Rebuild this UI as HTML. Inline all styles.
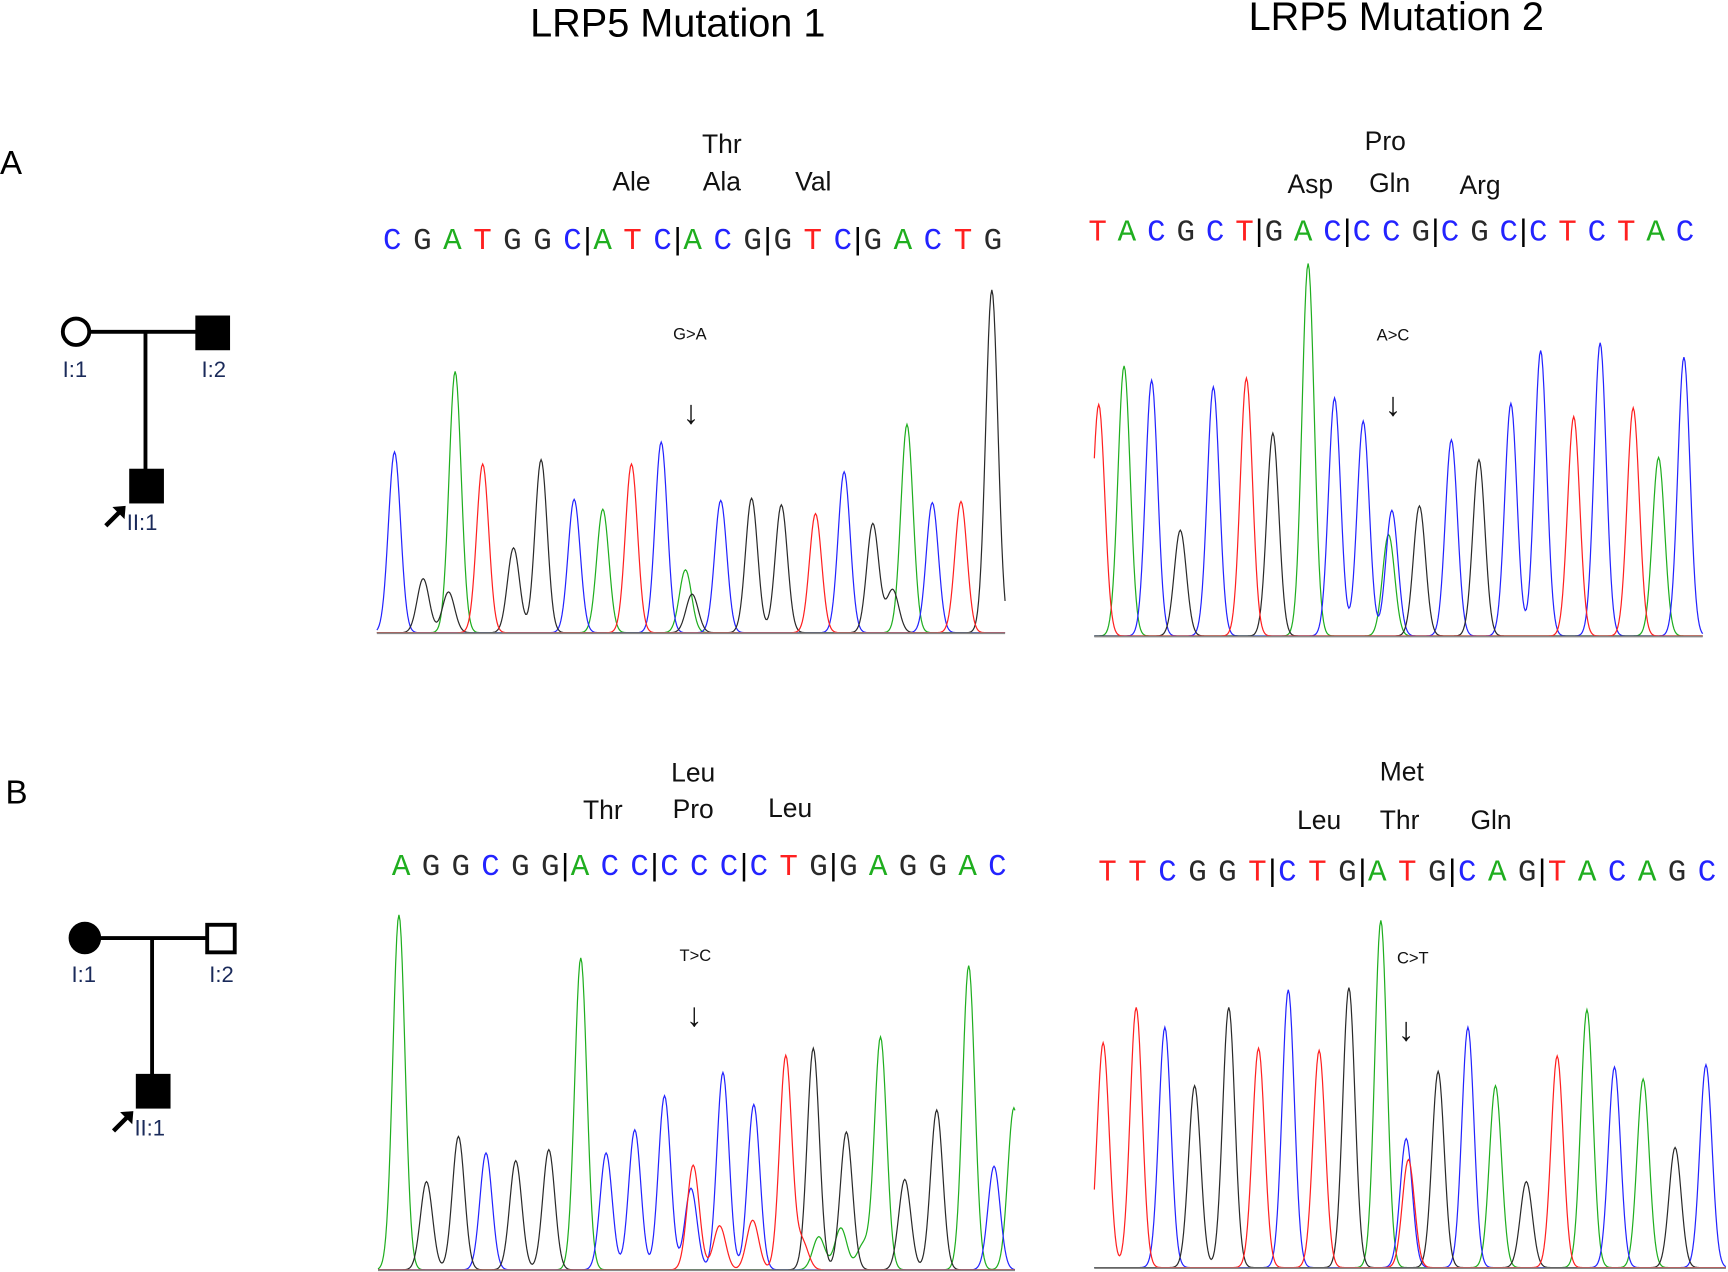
<!DOCTYPE html>
<html><head><meta charset="utf-8">
<style>
html,body{margin:0;padding:0;background:#fff;}
svg{display:block;}
text{font-family:"Liberation Sans",Arial,sans-serif;}
</style></head>
<body>
<svg id="fig" width="1728" height="1272" viewBox="0 0 1568 1154" preserveAspectRatio="none" xmlns="http://www.w3.org/2000/svg">
  <rect width="1568" height="1154" fill="#fff"/>
  <text x="615" y="33" font-size="36" text-anchor="middle">LRP5 Mutation 1</text>
  <text x="1267" y="27" font-size="36" text-anchor="middle">LRP5 Mutation 2</text>
  <text x="0" y="158" font-size="30">A</text>
  <text x="5" y="729" font-size="30">B</text>

  <g stroke="#000" stroke-width="3.5">
    <line x1="82" y1="301" x2="180" y2="301"/>
    <line x1="132" y1="301" x2="132" y2="428"/>
    <circle cx="69" cy="301" r="12" fill="#fff"/>
    <rect x="179" y="288" width="28" height="28" fill="#000"/>
    <rect x="119" y="427" width="28" height="28" fill="#000"/>
  </g>
  <g font-size="20" fill="#1a2a5a">
    <text x="68" y="342" text-anchor="middle">I:1</text>
    <text x="194" y="342" text-anchor="middle">I:2</text>
    <text x="115" y="481">II:1</text>
  </g>
  <path d="M96 477 L108 465" stroke="#000" stroke-width="4"/>
  <path d="M102 460 L114 459 L113 471 Z" fill="#000"/>

  <g stroke="#000" stroke-width="3.5">
    <line x1="90" y1="851" x2="188" y2="851"/>
    <line x1="138" y1="851" x2="138" y2="977"/>
    <circle cx="77" cy="851" r="13" fill="#000"/>
    <rect x="188" y="839" width="25" height="25" fill="#fff"/>
    <rect x="125" y="976" width="28" height="28" fill="#000"/>
  </g>
  <g font-size="20" fill="#1a2a5a">
    <text x="76" y="891" text-anchor="middle">I:1</text>
    <text x="201" y="891" text-anchor="middle">I:2</text>
    <text x="122" y="1030">II:1</text>
  </g>
  <path d="M103 1026 L115 1014" stroke="#000" stroke-width="4"/>
  <path d="M109 1009 L121 1008 L120 1020 Z" fill="#000"/>

  <g font-size="24" text-anchor="middle" fill="#111">
    <text x="655" y="139">Thr</text>
    <text x="573" y="173">Ale</text>
    <text x="655" y="173">Ala</text>
    <text x="738" y="173">Val</text>
    <text x="1257" y="136">Pro</text>
    <text x="1189" y="175">Asp</text>
    <text x="1261" y="174">Gln</text>
    <text x="1343" y="176">Arg</text>
    <text x="629" y="709">Leu</text>
    <text x="547" y="743">Thr</text>
    <text x="629" y="742">Pro</text>
    <text x="717" y="741">Leu</text>
    <text x="1272" y="708">Met</text>
    <text x="1197" y="752">Leu</text>
    <text x="1270" y="752">Thr</text>
    <text x="1353" y="752">Gln</text>
  </g>

  <g font-size="15" text-anchor="middle" fill="#111">
    <text x="626" y="308">G&gt;A</text>
    <text x="1264" y="309">A&gt;C</text>
    <text x="631" y="872">T&gt;C</text>
    <text x="1282" y="874">C&gt;T</text>
  </g>
  <g font-size="30" text-anchor="middle" fill="#111">
    <text x="627" y="384">↓</text>
    <text x="1264" y="377">↓</text>
    <text x="630" y="931">↓</text>
    <text x="1276" y="944">↓</text>
  </g>
  <g id="charts"></g>
</svg>
<script>
const a1Seq = "CGATGGC|ATC|ACG|GTC|GACTG";
const a1Pos = [16,42,65,71,96,124,149,179,205,231,258,280,286,312,340,367,398,424,450,468,481,504,530,558];
const a1Val = [164,49,37,237,153,77,157,121,112,153,173,57,35,120,122,116,108,146,99,39,189,118,119,311];
const a1Ch  = ["C","G","G","A","T","G","G","C","A","T","C","A","G","C","G","G","T","C","G","G","A","C","T","G"];

const a2Seq = "TACGCT|GAC|CCG|CGC|CTCTAC";
const a2Pos = [4,27,52,78,108,138,162,194,218,244,267,270,295,324,349,378,405,435,459,489,512,535];
const a2Val = [210,245,232,96,226,234,184,338,216,195,92,114,118,178,160,211,259,199,266,207,162,253];
const a2Ch  = ["T","A","C","G","C","T","G","A","C","C","A","C","G","C","G","C","C","T","C","T","A","C"];

const b1Seq = "AGGCGG|ACC|CCC|CTG|GAGGAC";
const b1Pos = [19,44,73,98,125,155,184,207,233,260,286,284,313,341,370,395,425,456,478,507,536,559,577,310,340,400,420,385,440];
const b1Val = [322,80,121,106,99,109,283,106,127,158,95,74,179,150,194,201,125,211,82,145,276,94,147,40,45,30,38,25,22];
const b1Ch  = ["A","G","G","C","G","G","A","C","C","C","T","C","C","C","T","G","G","A","G","G","A","C","A","T","T","A","A","T","A"];

const b2Seq = "TTCGGT|CTG|ATG|CAG|TACAGC";
const b2Pos = [8,38,64,91,122,149,176,204,231,260,283,285,312,339,364,392,420,447,472,498,527,555];
const b2Val = [204,236,218,165,236,199,252,197,254,315,117,98,178,218,165,78,192,234,182,171,109,184];
const b2Ch  = ["T","T","C","G","G","T","C","T","G","A","C","T","G","C","A","G","T","A","C","A","G","C"];

const channelColor = {A:"#1fae1f", C:"#2323ff", G:"#2a2a2a", T:"#ff2020"};
const NS = "http://www.w3.org/2000/svg";
const charts = document.getElementById('charts');

function drawChart(name, x0, x1, baseY, pos, val, ch, seq, seqX0, seqX1, seqY, fontSize) {
  const g = document.createElementNS(NS, 'g');
  
  
  charts.appendChild(g);
  const xScale = p => x0 + p;
  const yScale = v => baseY - v;
  const sigma = 5.5;
  ["A","C","G","T"].forEach(c => {
    let d = "";
    let any = false;
    for (let x = x0; x <= x1; x += 1) {
      let s = 0;
      for (let i = 0; i < pos.length; i++) {
        if (ch[i] !== c) continue;
        any = true;
        const dx = x - xScale(pos[i]);
        s += val[i] * Math.exp(-dx * dx / (2 * sigma * sigma));
      }
      d += (d ? " L" : "M") + x + " " + yScale(s).toFixed(1);
    }
    if (!any) return;
    const p = document.createElementNS(NS, 'path');
    p.setAttribute('d', d);
    p.setAttribute('fill', 'none');
    p.setAttribute('stroke', channelColor[c]);
    p.setAttribute('stroke-width', '1.1');
    
    
    g.appendChild(p);
  });
  const bl = document.createElementNS(NS, 'line');
  bl.setAttribute('x1', x0); bl.setAttribute('x2', x1);
  bl.setAttribute('y1', baseY + 0.5); bl.setAttribute('y2', baseY + 0.5);
  bl.setAttribute('stroke', '#888'); bl.setAttribute('stroke-width', '1.5');
  
  
  g.appendChild(bl);
  const slots = [];
  const pipes = [];
  for (const chr of seq) {
    if (chr === '|') pipes.push(slots.length - 0.5);
    else slots.push(chr);
  }
  const n = slots.length;
  const sx = k => seqX0 + (seqX1 - seqX0) * k / (n - 1);
  slots.forEach((chr, k) => {
    const t = document.createElementNS(NS, 'text');
    t.setAttribute('x', sx(k).toFixed(1));
    t.setAttribute('y', seqY);
    t.setAttribute('text-anchor', 'middle');
    t.setAttribute('style', 'font-family:"Liberation Mono",monospace;font-size:' + fontSize + 'px');
    t.setAttribute('fill', channelColor[chr]);
    t.textContent = chr;
    
    
    g.appendChild(t);
  });
  pipes.forEach(k => {
    const t = document.createElementNS(NS, 'text');
    t.setAttribute('x', sx(k).toFixed(1));
    t.setAttribute('y', seqY);
    t.setAttribute('text-anchor', 'middle');
    t.setAttribute('style', 'font-family:"Liberation Sans",sans-serif;font-size:' + fontSize + 'px');
    t.setAttribute('fill', '#000');
    t.textContent = '|';
    
    
    g.appendChild(t);
  });
}

drawChart('chromatogram-a1', 342, 912, 574, a1Pos, a1Val, a1Ch, a1Seq, 356, 901, 226, 28);
drawChart('chromatogram-a2', 993, 1545, 577, a2Pos, a2Val, a2Ch, a2Seq, 996, 1529, 218, 28);
drawChart('chromatogram-b1', 343, 921, 1152, b1Pos, b1Val, b1Ch, b1Seq, 364, 905, 794, 28);
drawChart('chromatogram-b2', 993, 1566, 1150, b2Pos, b2Val, b2Ch, b2Seq, 1005, 1549, 799, 28);
</script>
</body></html>
